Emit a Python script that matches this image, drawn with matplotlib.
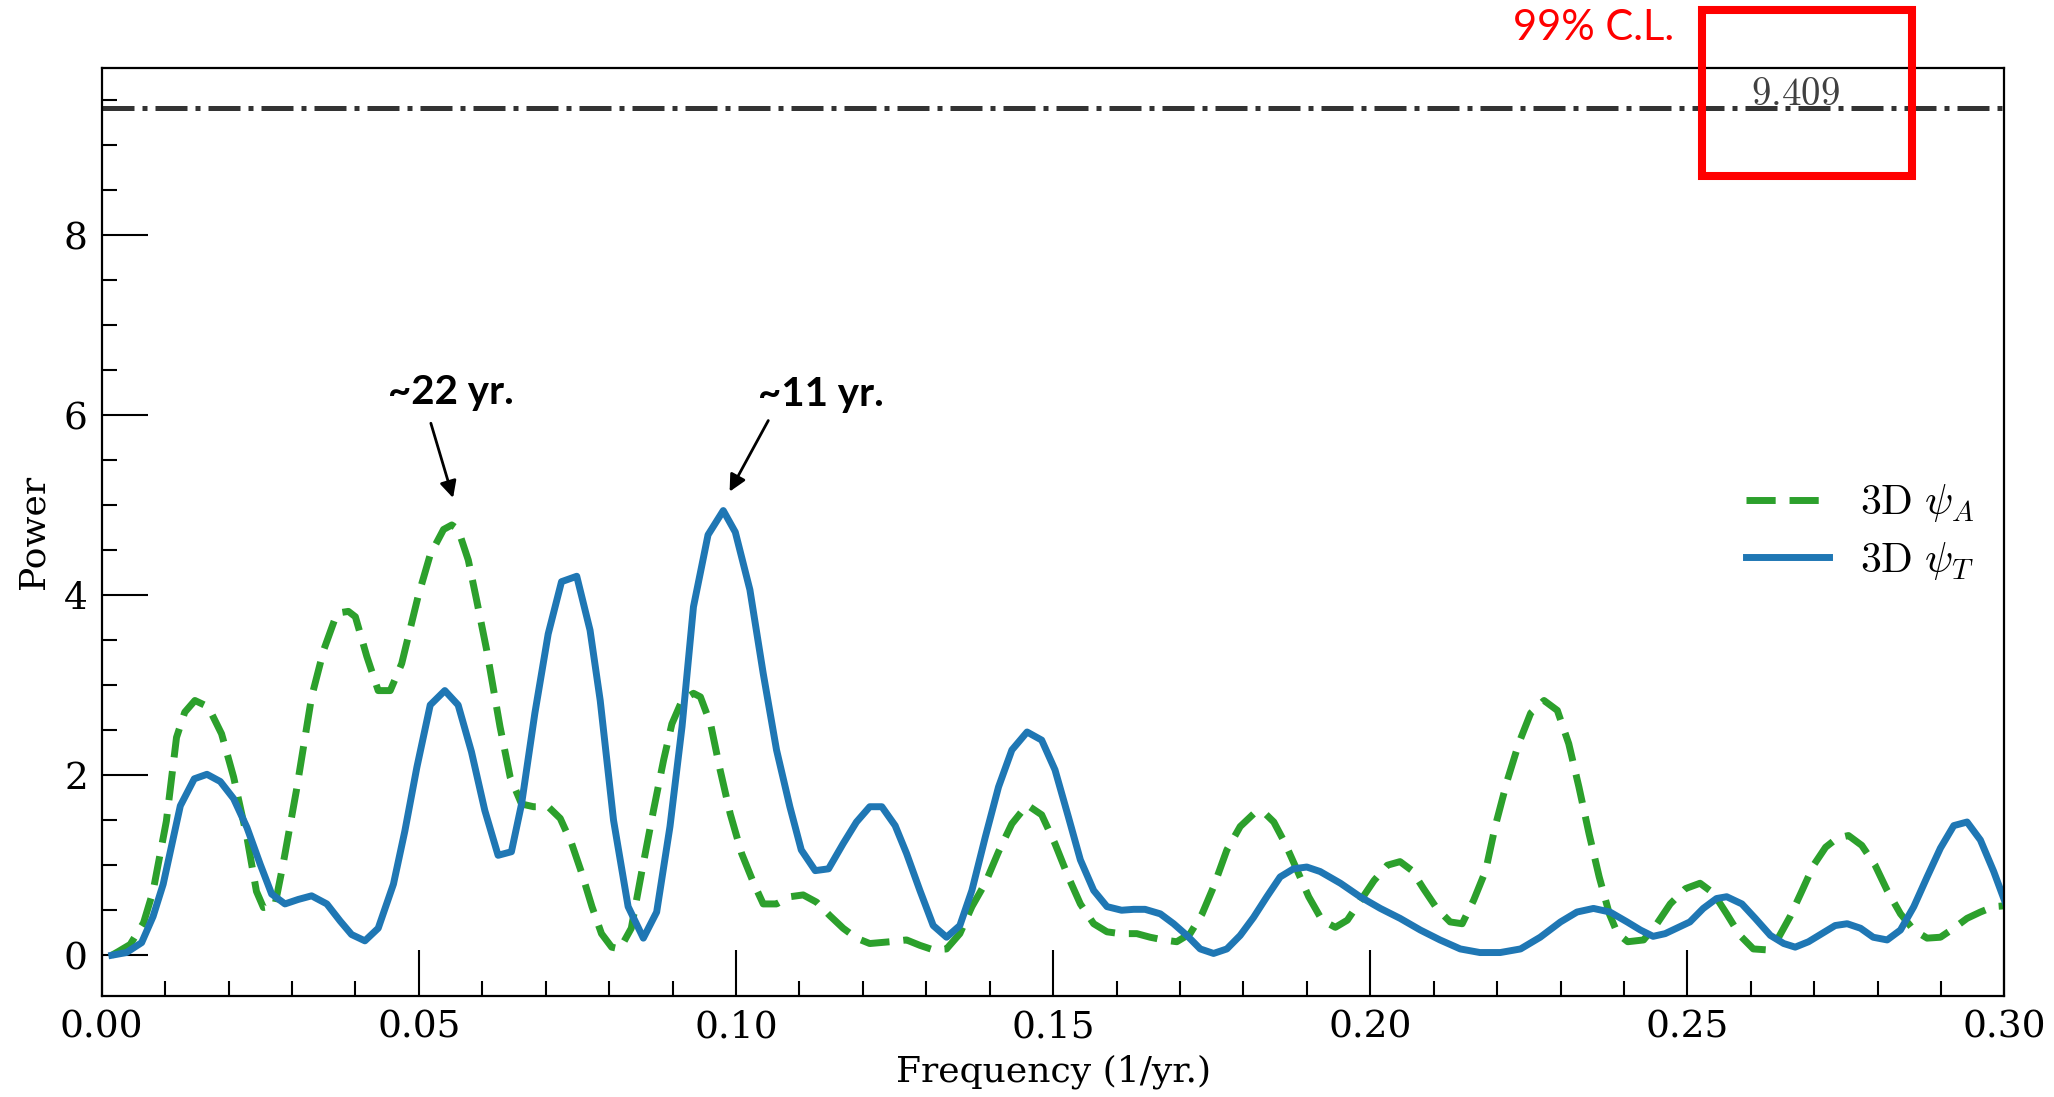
import matplotlib
matplotlib.use("Agg")
import matplotlib.pyplot as plt
from matplotlib.patches import Rectangle
from matplotlib.ticker import MultipleLocator

plt.rcParams['font.family'] = 'serif'
plt.rcParams['font.serif'] = ['DejaVu Serif']
plt.rcParams['mathtext.fontset'] = 'cm'

# ========================
# Data
# ========================
freqT = [0.0016, 0.0039, 0.0063, 0.0081, 0.0097, 0.0124, 0.0146, 0.0166, 0.0187, 0.0208,
         0.0229, 0.0250, 0.0268, 0.0289, 0.0310, 0.0331, 0.0355, 0.0376, 0.0394, 0.0415,
         0.0436, 0.0460, 0.0478, 0.0497, 0.0518, 0.0541, 0.0562, 0.0583, 0.0604, 0.0625,
         0.0646, 0.0662, 0.0683, 0.0704, 0.0725, 0.0749, 0.0770, 0.0786, 0.0807, 0.0830,
         0.0854, 0.0875, 0.0896, 0.0915, 0.0933, 0.0956, 0.0980, 0.0999, 0.1022, 0.1043,
         0.1064, 0.1085, 0.1103, 0.1125, 0.1146, 0.1169, 0.1190, 0.1211, 0.1230, 0.1251,
         0.1269, 0.1290, 0.1311, 0.1332, 0.1353, 0.1372, 0.1393, 0.1414, 0.1435, 0.1459,
         0.1482, 0.1503, 0.1524, 0.1543, 0.1564, 0.1585, 0.1608, 0.1627, 0.1645, 0.1669,
         0.1690, 0.1711, 0.1732, 0.1753, 0.1774, 0.1795, 0.1816, 0.1837, 0.1858, 0.1879,
         0.1900, 0.1921, 0.1953, 0.1984, 0.2016, 0.2047, 0.2079, 0.2110, 0.2142, 0.2173,
         0.2205, 0.2237, 0.2268, 0.2300, 0.2326, 0.2352, 0.2378, 0.2405, 0.2426, 0.2446,
         0.2465, 0.2483, 0.2504, 0.2525, 0.2546, 0.2562, 0.2586, 0.2607, 0.2631, 0.2652,
         0.2670, 0.2691, 0.2712, 0.2733, 0.2752, 0.2773, 0.2793, 0.2815, 0.2836, 0.2857,
         0.2878, 0.2899, 0.2920, 0.2941, 0.2962, 0.2983, 0.3002]
powerT = [0.00, 0.03, 0.14, 0.43, 0.79, 1.66, 1.96, 2.01, 1.93, 1.74,
          1.42, 1.01, 0.68, 0.57, 0.62, 0.66, 0.57, 0.38, 0.23, 0.16,
          0.30, 0.79, 1.38, 2.09, 2.78, 2.94, 2.78, 2.26, 1.61, 1.11,
          1.15, 1.68, 2.69, 3.57, 4.15, 4.21, 3.61, 2.83, 1.50, 0.54,
          0.19, 0.48, 1.43, 2.54, 3.87, 4.67, 4.94, 4.70, 4.06, 3.13,
          2.28, 1.65, 1.17, 0.94, 0.96, 1.24, 1.48, 1.65, 1.65, 1.44,
          1.13, 0.72, 0.33, 0.20, 0.33, 0.72, 1.31, 1.87, 2.28, 2.48,
          2.39, 2.06, 1.54, 1.06, 0.72, 0.54, 0.50, 0.51, 0.51, 0.46,
          0.35, 0.22, 0.07, 0.02, 0.07, 0.22, 0.42, 0.65, 0.87, 0.96,
          0.98, 0.93, 0.80, 0.65, 0.52, 0.41, 0.28, 0.17, 0.07, 0.03,
          0.03, 0.07, 0.20, 0.37, 0.48, 0.52, 0.48, 0.37, 0.28, 0.21,
          0.24, 0.30, 0.37, 0.52, 0.63, 0.65, 0.57, 0.41, 0.22, 0.13,
          0.09, 0.15, 0.24, 0.33, 0.35, 0.30, 0.20, 0.17, 0.28, 0.54,
          0.87, 1.19, 1.44, 1.48, 1.28, 0.93, 0.57]

freqA = [0.0016, 0.0026, 0.0045, 0.0066, 0.0081, 0.0102, 0.0118, 0.0131, 0.0147, 0.0168,
         0.0189, 0.0208, 0.0229, 0.0244, 0.0255, 0.0273, 0.0286, 0.0307, 0.0331, 0.0350,
         0.0371, 0.0389, 0.0400, 0.0418, 0.0436, 0.0455, 0.0473, 0.0499, 0.0518, 0.0539,
         0.0552, 0.0562, 0.0578, 0.0591, 0.0607, 0.0628, 0.0644, 0.0662, 0.0681, 0.0704,
         0.0723, 0.0741, 0.0757, 0.0773, 0.0788, 0.0804, 0.0817, 0.0835, 0.0851, 0.0870,
         0.0886, 0.0899, 0.0915, 0.0933, 0.0944, 0.0960, 0.0975, 0.0991, 0.1009, 0.1028,
         0.1043, 0.1064, 0.1085, 0.1106, 0.1127, 0.1148, 0.1169, 0.1190, 0.1211, 0.1243,
         0.1269, 0.1290, 0.1311, 0.1332, 0.1353, 0.1372, 0.1393, 0.1414, 0.1435, 0.1459,
         0.1482, 0.1503, 0.1524, 0.1543, 0.1564, 0.1585, 0.1606, 0.1632, 0.1653, 0.1674,
         0.1695, 0.1716, 0.1735, 0.1753, 0.1774, 0.1795, 0.1816, 0.1832, 0.1848, 0.1866,
         0.1885, 0.1903, 0.1924, 0.1945, 0.1964, 0.1985, 0.2006, 0.2027, 0.2047, 0.2066,
         0.2084, 0.2105, 0.2126, 0.2145, 0.2163, 0.2182, 0.2197, 0.2216, 0.2234, 0.2253,
         0.2274, 0.2295, 0.2313, 0.2329, 0.2345, 0.2361, 0.2377, 0.2390, 0.2406, 0.2431,
         0.2452, 0.2473, 0.2497, 0.2520, 0.2541, 0.2562, 0.2583, 0.2604, 0.2625, 0.2644,
         0.2662, 0.2681, 0.2699, 0.2718, 0.2736, 0.2754, 0.2775, 0.2796, 0.2815, 0.2836,
         0.2857, 0.2878, 0.2899, 0.2920, 0.2941, 0.2962, 0.2983, 0.3002]
powerA = [0.00, 0.04, 0.12, 0.36, 0.71, 1.49, 2.42, 2.70, 2.83, 2.76,
          2.46, 1.98, 1.31, 0.71, 0.53, 0.55, 1.01, 1.83, 2.87, 3.39,
          3.80, 3.82, 3.76, 3.32, 2.94, 2.94, 3.24, 3.99, 4.45, 4.73,
          4.78, 4.73, 4.39, 3.95, 3.39, 2.54, 1.98, 1.68, 1.65, 1.65,
          1.52, 1.24, 0.91, 0.54, 0.24, 0.09, 0.07, 0.30, 0.91, 1.61,
          2.17, 2.57, 2.83, 2.91, 2.87, 2.57, 2.06, 1.57, 1.13, 0.80,
          0.57, 0.57, 0.65, 0.67, 0.59, 0.44, 0.30, 0.19, 0.13, 0.15,
          0.17, 0.11, 0.06, 0.07, 0.24, 0.54, 0.80, 1.15, 1.46, 1.67,
          1.56, 1.24, 0.87, 0.57, 0.35, 0.26, 0.24, 0.24, 0.20, 0.17,
          0.15, 0.24, 0.46, 0.76, 1.17, 1.43, 1.57, 1.59, 1.48, 1.24,
          0.94, 0.65, 0.39, 0.31, 0.39, 0.61, 0.83, 1.00, 1.04, 0.94,
          0.74, 0.52, 0.37, 0.35, 0.61, 0.94, 1.43, 1.94, 2.35, 2.69,
          2.83, 2.72, 2.35, 1.87, 1.35, 0.87, 0.46, 0.24, 0.15, 0.17,
          0.35, 0.57, 0.74, 0.80, 0.69, 0.46, 0.22, 0.07, 0.06, 0.20,
          0.43, 0.72, 1.00, 1.20, 1.30, 1.33, 1.22, 1.00, 0.72, 0.46,
          0.28, 0.19, 0.20, 0.30, 0.41, 0.48, 0.54, 0.55]

confLevel = 9.409
labels = [r'$\mathrm{3D}\ \psi_A$', r'$\mathrm{3D}\ \psi_T$']

# ========================
# Plot
# ========================
fig = plt.figure(figsize=(20.54, 10.97), dpi=100)
ax = fig.add_axes([0.0495, 0.0923, 0.9264, 0.846])

ax.plot(freqA, powerA, color='#2ca02c', lw=5, ls=(0, (4.2, 2.0)), label=labels[0])
ax.plot(freqT, powerT, color='#1f77b4', lw=5, label=labels[1])
ax.axhline(confLevel, color='0.2', ls='-.', lw=3.6)
# value of the 99% level, printed just above the line
ax.text(0.2671, confLevel + 0.04, r'$%.3f$' % confLevel, color='0.25', fontsize=28,
        ha='center', va='baseline')

ax.set_xlim(0, 0.30)
ax.set_ylim(-0.45, 9.86)
ax.xaxis.set_major_locator(MultipleLocator(0.05))
ax.xaxis.set_minor_locator(MultipleLocator(0.01))
ax.yaxis.set_major_locator(MultipleLocator(2))
ax.yaxis.set_minor_locator(MultipleLocator(0.5))
ax.xaxis.set_major_formatter(matplotlib.ticker.FormatStrFormatter('%.2f'))
ax.tick_params(which='both', direction='in', top=False, right=False, width=1.5,
               labelsize=27, pad=10)
ax.tick_params(which='major', length=33)
ax.tick_params(which='minor', length=11)
for sp in ax.spines.values():
    sp.set_linewidth(1.6)

ax.set_xlabel('Frequency (1/yr.)', fontsize=26, labelpad=6)
ax.set_ylabel('Power', fontsize=26, labelpad=10)

ax.legend(loc='center right', bbox_to_anchor=(1.0, 0.5), frameon=False, fontsize=30,
          handlelength=2.0, handletextpad=0.75, labelspacing=0.35, borderaxespad=0.3)

# period annotations
ax.text(0.0551, 6.25, '~22 yr.', family='Lato', weight='bold', fontsize=29,
        ha='center', va='center')
ax.annotate('', xy=(0.0554, 5.08), xytext=(0.0519, 5.91),
            arrowprops=dict(arrowstyle='-|>', color='k', lw=2, mutation_scale=25,
                            shrinkA=0, shrinkB=0))
ax.text(0.1134, 6.23, '~11 yr.', family='Lato', weight='bold', fontsize=29,
        ha='center', va='center')
ax.annotate('', xy=(0.0990, 5.15), xytext=(0.1051, 5.94),
            arrowprops=dict(arrowstyle='-|>', color='k', lw=2, mutation_scale=25,
                            shrinkA=0, shrinkB=0))

# confidence level highlight
fig.add_artist(Rectangle((0.8286, 0.8396), 0.1022, 0.1513, transform=fig.transFigure,
                         fill=False, edgecolor='red', lw=5.8, clip_on=False))
fig.text(0.7758, 0.9745, '99% C.L.', family='Lato', fontsize=30, color='red',
         ha='center', va='center')

fig.savefig('out.png', dpi=100)
